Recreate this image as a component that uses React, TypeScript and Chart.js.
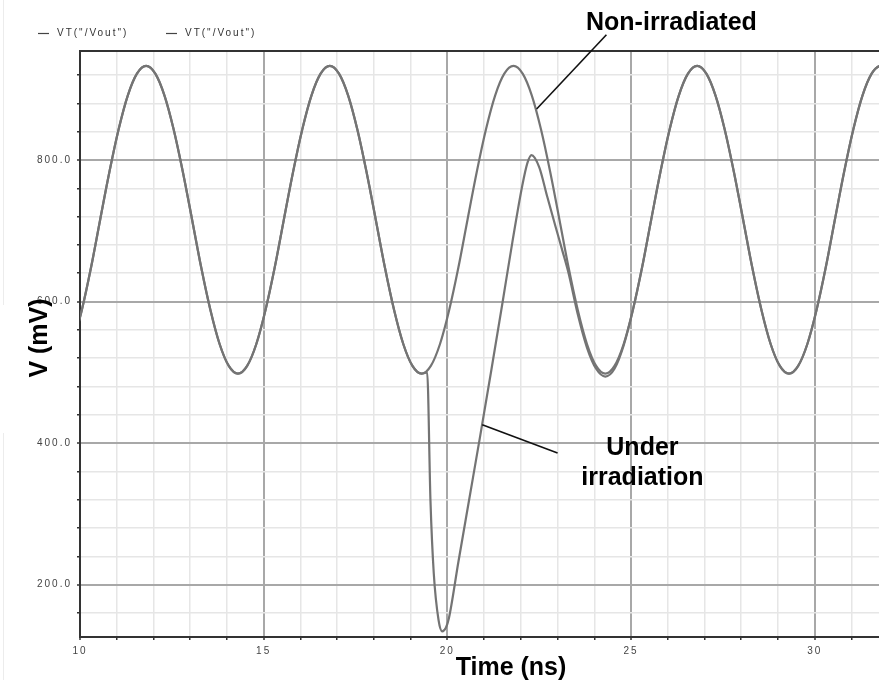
import { useEffect, useRef } from "react";
import { Chart, registerables } from "chart.js";

Chart.register(...registerables);

// Output voltage of the ring oscillator node, sampled every 0.25 ns
const cleanTimeNs = [
  9.8, 10.05, 10.3, 10.55, 10.8, 11.05, 11.3, 11.55, 11.8, 12.05,
  12.3, 12.55, 12.8, 13.05, 13.3, 13.55, 13.8, 14.05, 14.3, 14.55,
  14.8, 15.05, 15.3, 15.55, 15.8, 16.05, 16.3, 16.55, 16.8, 17.05,
  17.3, 17.55, 17.8, 18.05, 18.3, 18.55, 18.8, 19.05, 19.3, 19.55,
  19.8, 20.05, 20.3, 20.55, 20.8, 21.05, 21.3, 21.55, 21.8, 22.05,
  22.3, 22.55, 22.8, 23.05, 23.3, 23.55, 23.8, 24.05, 24.3, 24.55,
  24.8, 25.05, 25.3, 25.55, 25.8, 26.05, 26.3, 26.55, 26.8, 27.05,
  27.3, 27.55, 27.8, 28.05, 28.3, 28.55, 28.8, 29.05, 29.3, 29.55,
  29.8, 30.05, 30.3, 30.55, 30.8, 31.05, 31.3, 31.55, 31.8, 32.05,
];
const cleanMv = [
  540, 588, 648, 716, 783, 843, 891, 922, 933, 922,
  891, 843, 783, 716, 648, 588, 540, 509, 498, 509,
  540, 588, 648, 716, 783, 843, 891, 922, 933, 922,
  891, 843, 783, 716, 648, 588, 540, 509, 498, 509,
  540, 588, 648, 716, 783, 843, 891, 922, 933, 922,
  891, 843, 783, 716, 648, 588, 540, 509, 498, 509,
  540, 588, 648, 716, 783, 843, 891, 922, 933, 922,
  891, 843, 783, 716, 648, 588, 540, 509, 498, 509,
  540, 588, 648, 716, 783, 843, 891, 922, 933, 922,
];

// Same node with a particle strike just after the 19.3 ns minimum
const hitTimeNs = [
  9.8, 10.05, 10.3, 10.55, 10.8, 11.05, 11.3, 11.55, 11.8, 12.05,
  12.3, 12.55, 12.8, 13.05, 13.3, 13.55, 13.8, 14.05, 14.3, 14.55,
  14.8, 15.05, 15.3, 15.55, 15.8, 16.05, 16.3, 16.55, 16.8, 17.05,
  17.3, 17.55, 17.8, 18.05, 18.3, 18.55, 18.8, 19.05, 19.3,
  19.45, 19.54, 19.63, 19.76, 19.86, 19.96, 20.04, 20.3, 20.6, 20.9,
  21.2, 21.5, 21.77, 22.04, 22.18, 22.29, 22.5, 22.72, 22.95, 23.13,
  23.3, 23.55, 23.8, 24.05, 24.3, 24.55, 24.8,
  25.05, 25.3, 25.55, 25.8, 26.05, 26.3, 26.55, 26.8, 27.05,
  27.3, 27.55, 27.8, 28.05, 28.3, 28.55, 28.8, 29.05, 29.3, 29.55,
  29.8, 30.05, 30.3, 30.55, 30.8, 31.05, 31.3, 31.55, 31.8, 32.05,
];
const hitMv = [
  540, 588, 648, 716, 783, 843, 891, 922, 933, 922,
  891, 843, 783, 716, 648, 588, 540, 509, 498, 509,
  540, 588, 648, 716, 783, 843, 891, 922, 933, 922,
  891, 843, 783, 716, 648, 588, 540, 509, 498,
  500, 319, 216, 150, 134, 139, 152, 232, 322, 412,
  504, 598, 684, 764, 796, 807, 790, 748, 705, 672,
  640, 582, 535, 505, 494, 505, 538,
  588, 648, 716, 783, 843, 891, 922, 933, 922,
  891, 843, 783, 716, 648, 588, 540, 509, 498, 509,
  540, 588, 648, 716, 783, 843, 891, 922, 933, 922,
];

const seriesLabels = ['VT("/Vout")', 'VT("/Vout")'];

const xTickValues = [
  10, 11, 12, 13, 14, 15, 16, 17, 18, 19, 20,
  21, 22, 23, 24, 25, 26, 27, 28, 29, 30, 31,
];
const xLabelValues = [10, 15, 20, 25, 30];
const yTickValues = [
  160, 200, 240, 280, 320, 360, 400, 440, 480, 520,
  560, 600, 640, 680, 720, 760, 800, 840, 880, 920,
];
const yLabelValues = [200, 400, 600, 800];

const xTitle = "Time (ns)";
const yTitle = "V (mV)";

// Callouts, anchored in axis units: [time ns, mV]
const noteNonIrradiated = {
  lines: ["Non-irradiated"],
  textAt: [26.1, 984] as [number, number],
  from: [24.33, 977] as [number, number],
  to: [22.43, 872] as [number, number],
};
const noteIrradiated = {
  lines: ["Under", "irradiation"],
  textAt: [25.31, 383] as [number, number],
  from: [23.0, 386] as [number, number],
  to: [20.95, 426] as [number, number],
};

const TRACE = "#747474";
const GRID_MAJOR = "#a8a8a8";
const GRID_MINOR = "#e6e6e6";
const AXIS = "#333333";
const SMALL_FONT = "10px 'Liberation Sans', Arial, sans-serif";
const BIG_FONT = "bold 25px 'Liberation Sans', Arial, sans-serif";

const decorPlugin = {
  id: "decor",
  beforeDraw(chart: any) {
    const ctx = chart.ctx as CanvasRenderingContext2D;
    ctx.save();
    ctx.fillStyle = "#ffffff";
    ctx.fillRect(0, 0, chart.width, chart.height);
    ctx.restore();
    // wide-tracked small font for the axis numbers
    (ctx as any).letterSpacing = "2px";
  },
  afterDraw(chart: any) {
    const ctx = chart.ctx as CanvasRenderingContext2D;
    const a = chart.chartArea;
    const xs = chart.scales.x;
    const ys = chart.scales.y;
    const px = (p: [number, number]) => [xs.getPixelForValue(p[0]), ys.getPixelForValue(p[1])];

    ctx.save();
    // faint window edge on the left
    ctx.strokeStyle = "#ececec";
    ctx.lineWidth = 1;
    ctx.beginPath();
    ctx.moveTo(3.5, 0);
    ctx.lineTo(3.5, 305);
    ctx.moveTo(3.5, 433);
    ctx.lineTo(3.5, chart.height);
    ctx.stroke();

    // top frame line
    ctx.strokeStyle = AXIS;
    ctx.lineWidth = 2;
    ctx.beginPath();
    ctx.moveTo(a.left, a.top);
    ctx.lineTo(a.right, a.top);
    ctx.stroke();

    // legend
    (ctx as any).letterSpacing = "2px";
    ctx.font = SMALL_FONT;
    ctx.fillStyle = "#333";
    ctx.strokeStyle = "#444";
    ctx.lineWidth = 1.2;
    ctx.textBaseline = "middle";
    ctx.textAlign = "left";
    const legendY = 33;
    const legendX = [38, 166];
    seriesLabels.forEach((label, i) => {
      const lx = legendX[i];
      ctx.beginPath();
      ctx.moveTo(lx, legendY + 0.5);
      ctx.lineTo(lx + 11, legendY + 0.5);
      ctx.stroke();
      ctx.fillText(label, lx + 19, legendY);
    });

    // axis titles
    (ctx as any).letterSpacing = "0px";
    ctx.font = BIG_FONT;
    ctx.fillStyle = "#000";
    ctx.textBaseline = "alphabetic";
    ctx.textAlign = "center";
    ctx.fillText(xTitle, 511, a.bottom + 38);
    ctx.save();
    ctx.translate(47, 338);
    ctx.rotate(-Math.PI / 2);
    ctx.fillText(yTitle, 0, 0);
    ctx.restore();

    // callouts
    ctx.strokeStyle = "#111";
    ctx.lineWidth = 1.6;
    [noteNonIrradiated, noteIrradiated].forEach((n) => {
      const [fx, fy] = px(n.from);
      const [tx, ty] = px(n.to);
      ctx.beginPath();
      ctx.moveTo(fx, fy);
      ctx.lineTo(tx, ty);
      ctx.stroke();
      const [cx, cy] = px(n.textAt);
      n.lines.forEach((line, i) => ctx.fillText(line, cx, cy + i * 30));
    });
    ctx.restore();
  },
};

export default function App() {
  const canvasRef = useRef<HTMLCanvasElement | null>(null);

  useEffect(() => {
    const canvas = canvasRef.current;
    if (!canvas) return;
    const chart = new Chart(canvas, {
      type: "line",
      data: {
        datasets: [
          {
            label: seriesLabels[0],
            data: cleanTimeNs.map((t, i) => ({ x: t, y: cleanMv[i] })),
            borderColor: TRACE,
            borderWidth: 2.2,
            pointRadius: 0,
            cubicInterpolationMode: "monotone",
          },
          {
            label: seriesLabels[1],
            data: hitTimeNs.map((t, i) => ({ x: t, y: hitMv[i] })),
            borderColor: TRACE,
            borderWidth: 2.2,
            pointRadius: 0,
            cubicInterpolationMode: "monotone",
          },
        ],
      },
      options: {
        responsive: false,
        maintainAspectRatio: false,
        devicePixelRatio: 1,
        animation: false,
        layout: { padding: { top: 51, left: 0, right: 0, bottom: 0 } },
        plugins: {
          legend: { display: false },
          tooltip: { enabled: false },
        },
        scales: {
          x: {
            type: "linear",
            min: 10,
            max: 31.75,
            afterFit: (s: any) => {
              s.height = 43;
            },
            afterBuildTicks: (s: any) => {
              s.ticks = xTickValues.map((v) => ({ value: v }));
            },
            ticks: {
              autoSkip: false,
              maxRotation: 0,
              minRotation: 0,
              padding: 5,
              color: "#444",
              font: { size: 10, family: "'Liberation Sans', Arial, sans-serif" },
              callback: (v: any) => (xLabelValues.includes(Number(v)) ? String(v) : ""),
            },
            grid: {
              color: (c: any) => (c.tick && xLabelValues.includes(c.tick.value) ? GRID_MAJOR : GRID_MINOR),
              lineWidth: (c: any) => (c.tick && xLabelValues.includes(c.tick.value) ? 2 : 1.5),
              tickColor: AXIS,
              tickLength: 3,
              tickWidth: 1.5,
            },
            border: { color: AXIS, width: 2 },
          },
          y: {
            type: "linear",
            min: 126,
            max: 954,
            afterFit: (s: any) => {
              s.width = 80;
            },
            afterBuildTicks: (s: any) => {
              s.ticks = yTickValues.map((v) => ({ value: v }));
            },
            ticks: {
              autoSkip: false,
              padding: 5,
              color: "#444",
              font: { size: 10, family: "'Liberation Sans', Arial, sans-serif" },
              callback: (v: any) => (yLabelValues.includes(Number(v)) ? Number(v).toFixed(1) : ""),
            },
            grid: {
              color: (c: any) => (c.tick && yLabelValues.includes(c.tick.value) ? GRID_MAJOR : GRID_MINOR),
              lineWidth: (c: any) => (c.tick && yLabelValues.includes(c.tick.value) ? 2 : 1.5),
              tickColor: AXIS,
              tickLength: 3,
              tickWidth: 1.5,
            },
            border: { color: AXIS, width: 2 },
          },
        },
      },
      plugins: [decorPlugin],
    });
    return () => chart.destroy();
  }, []);

  return (
    <div style={{ position: "absolute", left: 0, top: 0, width: 879, height: 680 }}>
      <canvas ref={canvasRef} width={879} height={680} style={{ display: "block" }} />
    </div>
  );
}
